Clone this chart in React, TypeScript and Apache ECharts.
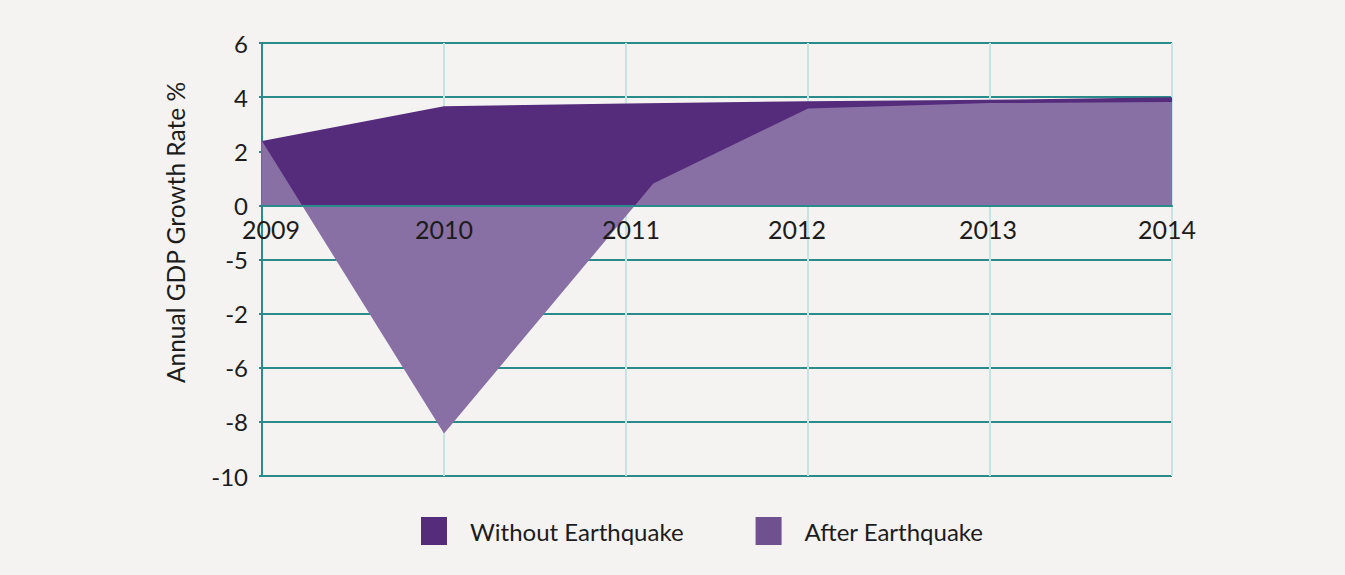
import React, { useEffect, useRef } from "react";
import * as echarts from "echarts";

// Annual GDP growth, two scenarios
const years = [2009, 2010, 2011, 2012, 2013, 2014];
const withoutQuake = [2.38, 3.66, 3.76, 3.85, 3.9, 4.0];
const afterQuakeYears = [2009, 2010, 2011.15, 2012, 2013, 2014];
const afterQuake = [2.38, -8.43, 0.81, 3.58, 3.78, 3.82];

// Tick labels shown on the value axis, keyed by the tick value
const yTickValues = [-10, -8, -6, -4, -2, 0, 2, 4, 6];
const yTickLabels = ["-10", "-8", "-6", "-2", "-5", "0", "2", "4", "6"];

const seriesNames = ["Without Earthquake", "After Earthquake"];
const yAxisTitle = "Annual GDP Growth Rate %";

const FONT = "Lato";
const TEAL = "#2a8b8b";
const LIGHT_TEAL = "#c6e5e2";
const Y_MIN = -10;
const Y_MAX = 6;
// horizontal nudge (px) of each year label relative to its grid line
const YEAR_LABEL_NUDGE = [9, 0, 5, -11, -2, -5];

export default function App() {
  const ref = useRef<HTMLDivElement>(null);

  useEffect(() => {
    if (!ref.current) return;
    const chart = echarts.init(ref.current, null, { renderer: "svg" });
    const gridTop = 43;
    const gridBottom = 99;
    const plotH = 575 - gridTop - gridBottom;
    // lift the year axis up to the zero line
    const zeroOffset = -(plotH * (0 - Y_MIN)) / (Y_MAX - Y_MIN);

    const yearRange = {
      type: "value",
      min: years[0],
      max: years[years.length - 1],
      interval: 1,
    };

    const labelStyle = { fontFamily: FONT, fontSize: 25, color: "#1c1c1c" };
    const rich: Record<string, object> = {};
    YEAR_LABEL_NUDGE.forEach((n, i) => {
      rich["y" + i] = {
        ...labelStyle,
        padding: n >= 0 ? [0, 0, 0, 2 * n] : [0, -2 * n, 0, 0],
      };
    });

    chart.setOption({
      animation: false,
      backgroundColor: "#f4f3f1",
      grid: { left: 262, right: 173, top: gridTop, bottom: gridBottom },
      legend: {
        left: 416,
        top: 512,
        itemWidth: 26,
        itemHeight: 28,
        itemGap: 72,
        icon: "rect",
        textStyle: {
          fontFamily: FONT,
          fontSize: 24,
          color: "#1c1c1c",
          padding: [0, 0, 0, 18],
        },
        data: [
          { name: seriesNames[0], itemStyle: { color: "#552b7b" } },
          { name: seriesNames[1], itemStyle: { color: "#6f5190" } },
        ],
      },
      xAxis: [
        {
          // vertical grid lines, behind the areas
          ...yearRange,
          axisLine: { show: false },
          axisTick: { show: false },
          axisLabel: { show: false },
          splitLine: { show: true, lineStyle: { color: LIGHT_TEAL, width: 2 } },
        },
        {
          // zero line and year labels, above the areas
          ...yearRange,
          position: "bottom",
          offset: zeroOffset,
          z: 10,
          axisLine: { show: true, onZero: false, lineStyle: { color: TEAL, width: 2 } },
          axisTick: { show: false },
          splitLine: { show: false },
          axisLabel: {
            ...labelStyle,
            margin: 11,
            formatter: (v: number) => {
              const i = years.indexOf(Math.round(v));
              return i >= 0 ? `{y${i}|${v}}` : String(v);
            },
            rich,
          },
        },
      ],
      yAxis: {
        type: "value",
        min: Y_MIN,
        max: Y_MAX,
        interval: 2,
        name: yAxisTitle,
        nameLocation: "middle",
        nameRotate: 90,
        nameGap: 74,
        nameTextStyle: {
          fontFamily: FONT,
          fontSize: 24.5,
          color: "#1c1c1c",
          padding: [0, 0, 0, 54],
        },
        axisLine: { show: true, onZero: false, lineStyle: { color: TEAL, width: 2 } },
        axisTick: { show: true, length: 3, lineStyle: { color: TEAL, width: 2 } },
        axisLabel: {
          fontFamily: FONT,
          fontSize: 24,
          color: "#1c1c1c",
          margin: 14,
          formatter: (v: number) => {
            const i = yTickValues.indexOf(v);
            return i >= 0 ? yTickLabels[i] : "";
          },
        },
        splitLine: { show: true, lineStyle: { color: TEAL, width: 2 } },
      },
      series: [
        {
          name: seriesNames[0],
          type: "line",
          xAxisIndex: 0,
          data: years.map((y, i) => [y, withoutQuake[i]]),
          symbol: "none",
          lineStyle: { width: 0 },
          itemStyle: { color: "#552b7b" },
          areaStyle: { color: "#552b7b", opacity: 1 },
          z: 2,
        },
        {
          name: seriesNames[1],
          type: "line",
          xAxisIndex: 0,
          data: afterQuakeYears.map((y, i) => [y, afterQuake[i]]),
          symbol: "none",
          lineStyle: { width: 0 },
          itemStyle: { color: "#6f5190" },
          areaStyle: { color: "#8870a5", opacity: 1 },
          z: 3,
        },
      ],
    });
    return () => chart.dispose();
  }, []);

  return (
    <div
      ref={ref}
      style={{ position: "fixed", left: 0, top: 0, width: 1345, height: 575 }}
    />
  );
}
